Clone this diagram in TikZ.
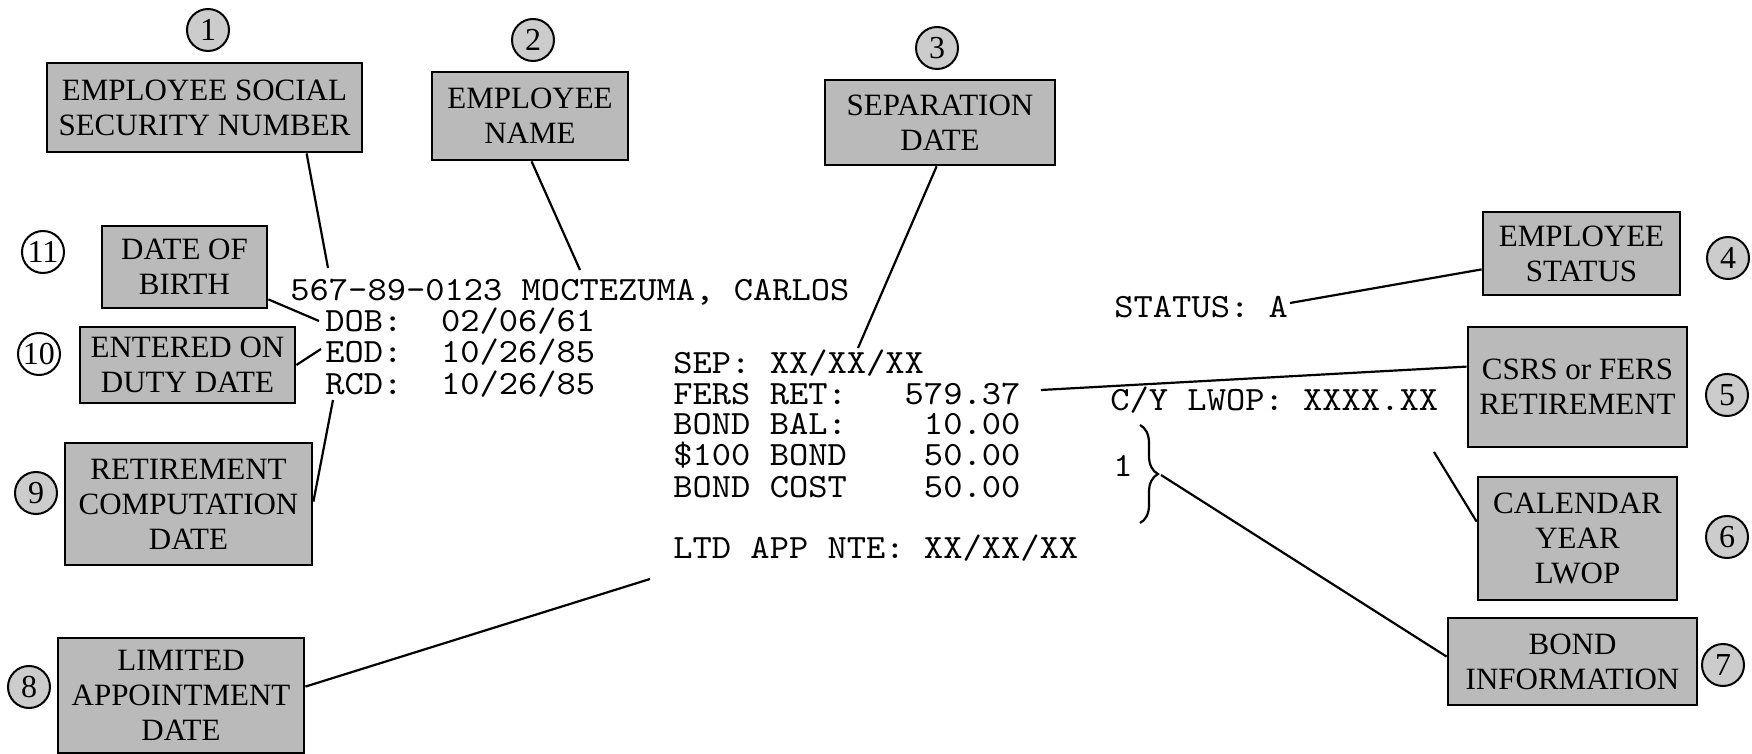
\documentclass[tikz,border=0pt]{standalone}
\usepackage{fontspec}
\setmainfont{Liberation Serif}
\newfontfamily\recfont{lmmono10-regular.otf}[FakeStretch=1.08]
\usetikzlibrary{calc,decorations.pathreplacing}
\tikzset{
  tag/.style  ={draw,line width=1.4pt,fill=black!27,align=center,inner sep=0pt,font=\fontsize{15.5}{17.5}\selectfont},
  num/.style  ={circle,draw,line width=1pt,fill=black!20,minimum size=21pt,inner sep=0pt,font=\fontsize{16}{16}\selectfont},
  numw/.style ={num,fill=white},
  rec/.style  ={anchor=base west,inner sep=0pt,font=\fontsize{17}{17}\recfont\frenchspacing},
  lead/.style ={line width=1.1pt},
}

\begin{document}
\begin{tikzpicture}[x=0.5pt,y=-0.5pt]
  \useasboundingbox (0,0) rectangle (1752,754);
  % label boxes
  \node[tag,minimum width=157.5pt,minimum height=44.5pt] (ssnBox)  at (204.5,107.5) {EMPLOYEE SOCIAL\\SECURITY NUMBER};
  \node[tag,minimum width=98pt,minimum height=44pt]      (nameBox) at (530,116)     {EMPLOYEE\\NAME};
  \node[tag,minimum width=115pt,minimum height=42.5pt]   (sepBox)  at (940,122.5)   {SEPARATION\\DATE};
  \node[tag,minimum width=98.5pt,minimum height=41.5pt]  (statBox) at (1581.5,253.5){EMPLOYEE\\STATUS};
  \node[tag,minimum width=109.5pt,minimum height=60pt]   (retBox)  at (1577.5,387)  {CSRS or FERS\\RETIREMENT};
  \node[tag,minimum width=99.5pt,minimum height=61.5pt]  (lwopBox) at (1577.5,538.5){CALENDAR\\YEAR\\LWOP};
  \node[tag,minimum width=124.5pt,minimum height=43.5pt] (bondBox) at (1572.5,661.5){BOND\\INFORMATION};
  \node[tag,minimum width=123pt,minimum height=57.5pt]   (ltdBox)  at (181,695.5)   {LIMITED\\APPOINTMENT\\DATE};
  \node[tag,minimum width=123.5pt,minimum height=61pt]   (rcdBox)  at (188.5,504)   {RETIREMENT\\COMPUTATION\\DATE};
  \node[tag,minimum width=107.5pt,minimum height=38pt]   (eodBox)  at (187.5,365)   {ENTERED ON\\DUTY DATE};
  \node[tag,minimum width=82.5pt,minimum height=41pt]    (dobBox)  at (184.5,267)   {DATE OF\\BIRTH};
  % circled numbers
  \node[num]  (n1)  at (208,30)   {1};
  \node[num]  (n2)  at (533,40)   {2};
  \node[num]  (n3)  at (937,48)   {3};
  \node[num]  (n4)  at (1728,258) {4};
  \node[num]  (n5)  at (1727,395) {5};
  \node[num]  (n6)  at (1727,537) {6};
  \node[num]  (n7)  at (1723,665) {7};
  \node[num]  (n8)  at (29,687)   {8};
  \node[num]  (n9)  at (36,493)   {9};
  \node[numw] (n10) at (39,354)   {10};
  \node[numw] (n11) at (43,252)   {11};
  % record lines
  \node[rec] (ssnLine)  at (290,301)  {567-89-0123 MOCTEZUMA, CARLOS};
  \node[rec] (dobLine)  at (325,332)  {DOB:~~02/06/61};
  \node[rec] (eodLine)  at (325,363)  {EOD:~~10/26/85};
  \node[rec] (rcdLine)  at (325,394)  {RCD:~~10/26/85};
  \node[rec] (sepLine)  at (673,373)  {SEP: XX/XX/XX};
  \node[rec] (fersLine) at (673,404)  {FERS RET:~~~579.37};
  \node[rec] (balLine)  at (673,435)  {BOND BAL:~~~~10.00};
  \node[rec] (hundLine) at (673,466)  {\$100 BOND~~~~50.00};
  \node[rec] (costLine) at (673,497)  {BOND COST~~~~50.00};
  \node[rec] (ltdLine)  at (673,558)  {LTD APP NTE: XX/XX/XX};
  \node[rec] (statLine) at (1114,318) {STATUS: A};
  \node[rec] (lwopLine) at (1110,410) {C/Y LWOP: XXXX.XX};
  \node[rec] (oneLine)  at (1113,476) {1};
  \draw[lead,decorate,decoration={brace,amplitude=9pt}] (1140,425) -- (1140,523);
  % free ends of the leaders
  \coordinate (ssnTip)   at (328,268);
  \coordinate (nameTip)  at (580,270);
  \coordinate (sepTip)   at (858,348);
  \coordinate (statTip)  at (1290,303);
  \coordinate (fersTip)  at (1041,390);
  \coordinate (lwopTip)  at (1434,452);
  \coordinate (braceTip) at (1161,475);
  \coordinate (ltdTip)   at (650,579);
  \coordinate (rcdTip)   at (333,400);
  \coordinate (eodTip)   at (321,349);
  \coordinate (dobTip)   at (319,321);
  % leaders
  \draw[lead] ($(ssnBox.south west)+(261,0)$) -- (ssnTip);
  \draw[lead] ($(nameBox.south west)+(101,0)$) -- (nameTip);
  \draw[lead] ($(sepBox.south west)+(113,0)$) -- (sepTip);
  \draw[lead] ($(statBox.south west)+(0,-27)$) -- (statTip);
  \draw[lead] ($(retBox.north west)+(0,41)$) -- (fersTip);
  \draw[lead] ($(lwopBox.north west)+(0,46)$) -- (lwopTip);
  \draw[lead] ($(bondBox.north west)+(0,40)$) -- (braceTip);
  \draw[lead] ($(ltdBox.north east)+(0,50)$) -- (ltdTip);
  \draw[lead] ($(rcdBox.north east)+(0,60)$) -- (rcdTip);
  \draw[lead] (eodBox.east) -- (eodTip);
  \draw[lead] ($(dobBox.south east)+(0,-10)$) -- (dobTip);
\end{tikzpicture}
\end{document}
